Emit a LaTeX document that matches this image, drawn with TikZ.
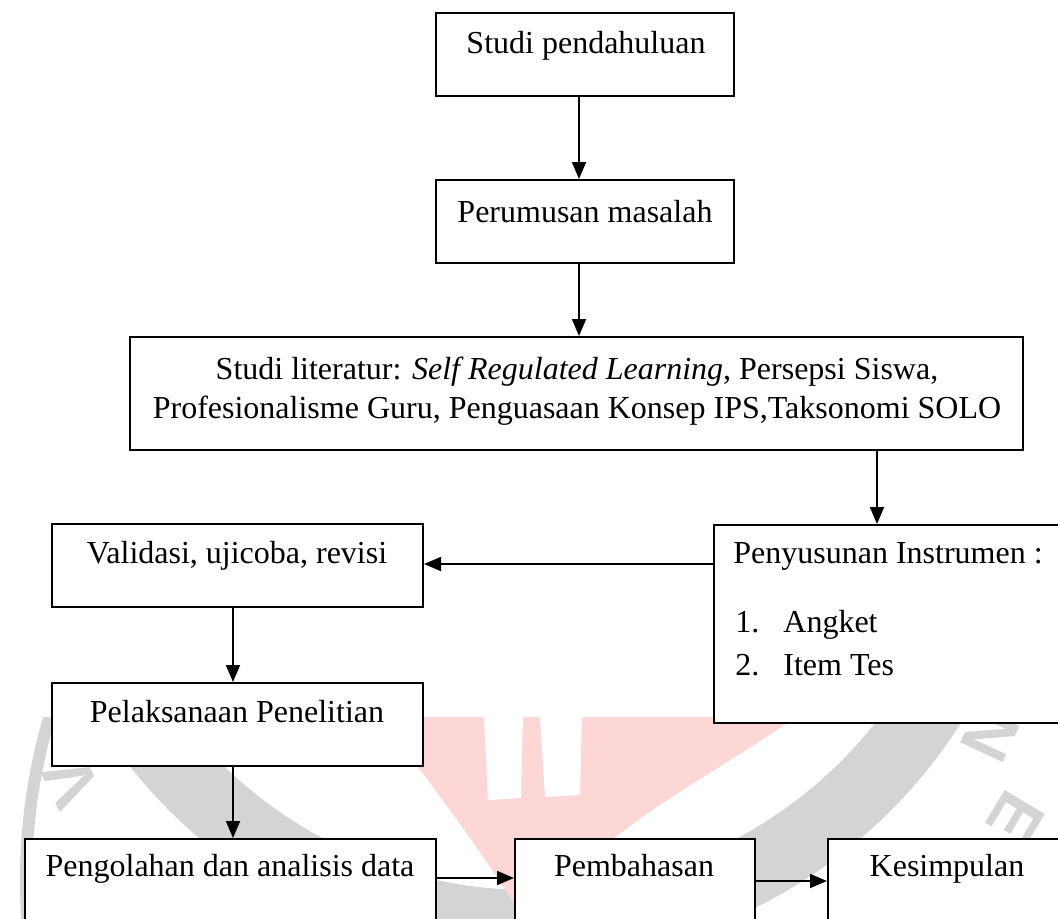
\documentclass[tikz,border=0pt]{standalone}
\usepackage{fontspec}
\setmainfont{Liberation Serif}
\setsansfont{Liberation Sans}
\usetikzlibrary{arrows.meta}
\definecolor{wmgrey}{RGB}{212,212,212}
\definecolor{wmpink}{RGB}{253,214,214}
\tikzset{
  box/.style={draw=black, line width=1pt, fill=white, rectangle, inner sep=0pt},
  txt/.style={inner sep=0pt, font=\fontsize{16}{19}\selectfont},
  arr/.style={line width=0.9pt, -{Triangle[length=8.5pt,width=7pt]}},
  wmletter/.style={inner sep=0pt, text=wmgrey, font=\sffamily\bfseries\fontsize{34}{34}\selectfont}
}
\begin{document}
\begin{tikzpicture}[x=0.5pt,y=-0.5pt]
\useasboundingbox (0,0) rectangle (1058,918);
\fill[white] (0,0) rectangle (1058,918);
\clip (0,0) rectangle (1058,918);
% ---- watermark ----
\begin{scope}
\clip (0,717) rectangle (1058,918);
\fill[wmgrey,even odd rule] (530,450) circle[radius=510] (530,450) circle[radius=440];
\fill[wmgrey,even odd rule] (600,880) circle[radius=580] (600,880) circle[radius=568];
\fill[wmpink] (378,717) -- (796,717) .. controls (720,770) and (640,810) .. (590,860)
  .. controls (560,890) and (530,900) .. (515,905)
  .. controls (480,850) and (430,780) .. (378,717) -- cycle;
\fill[white] (484,717) -- (523,717) -- (521,798) -- (488,800) -- cycle;
\fill[white] (540,717) -- (582,717) -- (580,795) -- (545,797) -- cycle;
\node[wmletter, rotate=116] (wv) at (72,782) {V};
\node[wmletter, rotate=-115] (wn) at (990,735) {N};
\node[wmletter, rotate=-121] (we) at (1016,818) {E};
\end{scope}
% ---- boxes (sizes in pt = px/2) ----
\node[box, minimum width=149pt, minimum height=41.5pt] (b1) at (585,54.5) {};
\node[box, minimum width=149pt, minimum height=41.5pt] (b2) at (585,221.5) {};
\node[box, minimum width=446.5pt, minimum height=56.5pt] (b3) at (576.5,393.5) {};
\node[box, minimum width=180pt, minimum height=99pt] (b4) at (894,624) {};
\node[box, minimum width=185.5pt, minimum height=41.5pt] (b5) at (237.5,565.5) {};
\node[box, minimum width=185.5pt, minimum height=41.5pt] (b6) at (237.5,724.5) {};
\node[box, minimum width=205.5pt, minimum height=45.5pt] (b7) at (230.5,884.5) {};
\node[box, minimum width=120pt, minimum height=45.5pt] (b8) at (635,884.5) {};
\node[box, minimum width=121pt, minimum height=45.5pt] (b9) at (949,884.5) {};
% ---- texts ----
\node[txt, anchor=base] (t1) at (586,53) {Studi pendahuluan};
\node[txt, anchor=base] (t2) at (585,222) {Perumusan masalah};
\node[txt, anchor=base] (t3a) at (577,379) {Studi literatur: \textit{Self Regulated Learning}, Persepsi Siswa,};
\node[txt, anchor=base] (t3b) at (577,418) {Profesionalisme Guru, Penguasaan Konsep IPS,Taksonomi SOLO};
\node[txt, anchor=base west] (t4) at (733,563) {Penyusunan Instrumen :};
\node[txt, anchor=base west] (t4n1) at (735,632) {1.};
\node[txt, anchor=base west] (t4a) at (783,632) {Angket};
\node[txt, anchor=base west] (t4n2) at (735,675) {2.};
\node[txt, anchor=base west] (t4b) at (783,675) {Item Tes};
\node[txt, anchor=base] (t5) at (237,563) {Validasi, ujicoba, revisi};
\node[txt, anchor=base] (t6) at (237,722) {Pelaksanaan Penelitian};
\node[txt, anchor=base] (t7) at (230,876) {Pengolahan dan analisis data};
\node[txt, anchor=base] (t8) at (634,876) {Pembahasan};
\node[txt, anchor=base] (t9) at (947,876) {Kesimpulan};
% ---- connectors ----
\coordinate (xa) at (579,0);
\coordinate (xb) at (877,0);
\coordinate (xc) at (233,0);
\coordinate (ya) at (0,564);
\coordinate (yb) at (0,878);
\coordinate (yc) at (0,881);
\draw[arr] (b1.south -| xa) -- (b2.north -| xa);
\draw[arr] (b2.south -| xa) -- (b3.north -| xa);
\draw[arr] (b3.south -| xb) -- (b4.north -| xb);
\draw[arr] (b4.west |- ya) -- (b5.east |- ya);
\draw[arr] (b5.south -| xc) -- (b6.north -| xc);
\draw[arr] (b6.south -| xc) -- (b7.north -| xc);
\draw[arr] (b7.east |- yb) -- (b8.west |- yb);
\draw[arr] (b8.east |- yc) -- (b9.west |- yc);
\end{tikzpicture}
\end{document}
